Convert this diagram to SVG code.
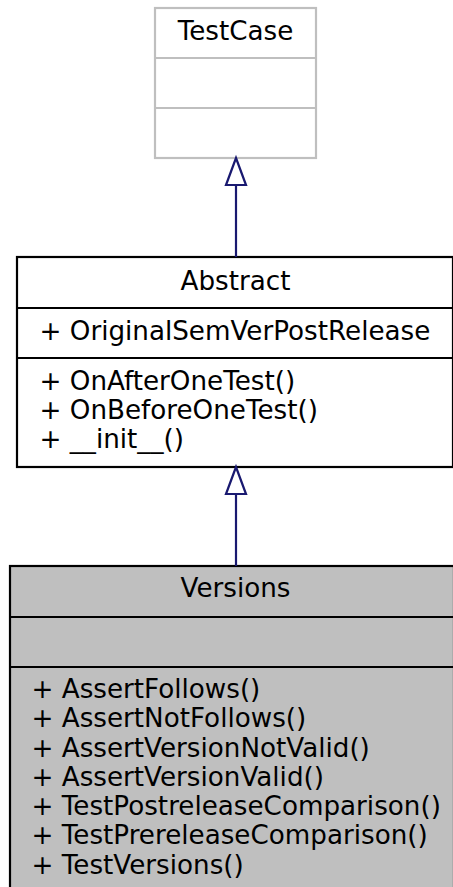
<svg xmlns="http://www.w3.org/2000/svg" width="453" height="887" viewBox="0 0 453 887">
<style>
text{font-family:"DejaVu Sans",sans-serif;font-size:26.2px;fill:#000}
.c{text-anchor:middle}
.box{stroke:#000;stroke-width:2.2}
.grey{stroke:#bfbfbf;stroke-width:2.2;fill:#fff}
.edge{stroke:#191970;stroke-width:2.2;fill:none}
.head{stroke:#191970;stroke-width:2.2;fill:#fff}
</style>
<rect width="453" height="887" fill="#fff"/>
<g id="TestCase">
<rect class="grey" x="155" y="8" width="161" height="150"/>
<line class="grey" x1="155" y1="58" x2="316" y2="58"/>
<line class="grey" x1="155" y1="108" x2="316" y2="108"/>
<text class="c" x="235.5" y="40">TestCase</text>
</g>
<g id="Abstract">
<rect class="box" x="17" y="257" width="436" height="210" fill="#fff"/>
<line class="box" x1="17" y1="308" x2="453" y2="308"/>
<line class="box" x1="17" y1="358" x2="453" y2="358"/>
<text class="c" x="235.5" y="290">Abstract</text>
<text x="39.5" y="340">+ OriginalSemVerPostRelease</text>
<text x="39.5" y="390">+ OnAfterOneTest()</text>
<text x="39.5" y="419">+ OnBeforeOneTest()</text>
<text x="39.5" y="448">+ __init__()</text>
</g>
<g id="Versions">
<rect class="box" x="10" y="566" width="444" height="340" fill="#bfbfbf"/>
<line class="box" x1="10" y1="617" x2="454" y2="617"/>
<line class="box" x1="10" y1="667" x2="454" y2="667"/>
<text class="c" x="235.5" y="597">Versions</text>
<text x="31.5" y="698">+ AssertFollows()</text>
<text x="31.5" y="727">+ AssertNotFollows()</text>
<text x="31.5" y="756.5">+ AssertVersionNotValid()</text>
<text x="31.5" y="786">+ AssertVersionValid()</text>
<text x="31.5" y="815">+ TestPostreleaseComparison()</text>
<text x="31.5" y="844">+ TestPrereleaseComparison()</text>
<text x="31.5" y="873.5">+ TestVersions()</text>
</g>
<g id="connectors">
<line class="edge" x1="236" y1="185" x2="236" y2="257"/>
<polygon class="head" points="236,158 246,185 226,185"/>
<line class="edge" x1="236" y1="494" x2="236" y2="566"/>
<polygon class="head" points="236,467 246,494 226,494"/>
</g>
</svg>
